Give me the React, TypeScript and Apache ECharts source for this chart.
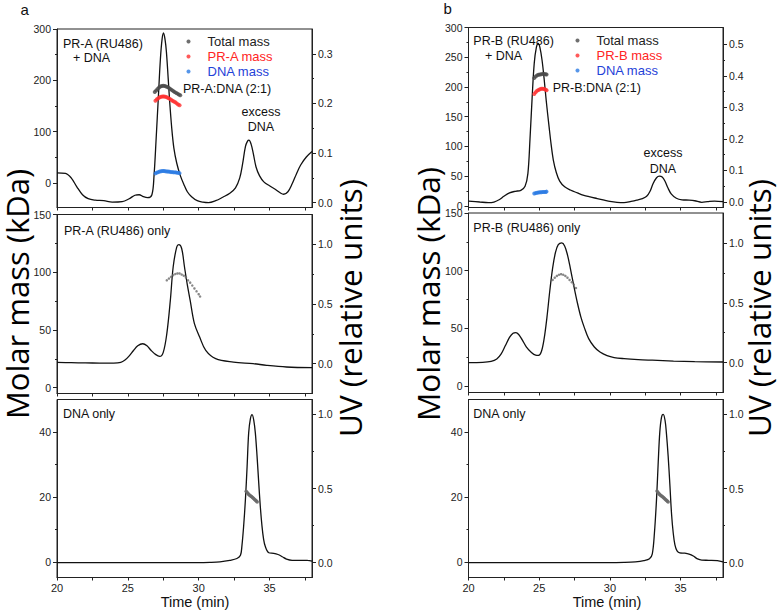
import React, { useEffect, useRef } from 'react';
import * as echarts from 'echarts';

const FONT = '"Liberation Sans", Arial, sans-serif';
const TITLE_FONT = '"Open Sans", sans-serif';

type P = [number, number][];

// ---- time axis ----
const timeTicks = [20, 22.5, 25, 27.5, 30, 32.5, 35, 37.5];
const timeLabels = [20, 25, 30, 35];

// ---- tick values ----
const aTopMassTicks = [0, 100, 200, 300];
const aTopMassMinor = [50, 150, 250];
const aTopUvTicks = [0, 0.1, 0.2, 0.3];
const aTopUvMinor = [0.05, 0.15, 0.25];
const bTopMassTicks = [0, 50, 100, 150, 200, 250, 300];
const bTopMassMinor = [25, 75, 125, 175, 225, 275];
const bTopUvTicks = [0, 0.1, 0.2, 0.3, 0.4, 0.5];
const bTopUvMinor = [0.05, 0.15, 0.25, 0.35, 0.45];
const midMassTicks = [0, 50, 100, 150];
const midMassMinor = [25, 75, 125];
const botMassTicks = [0, 20, 40];
const botMassMinor = [10, 30];
const unitUvTicks = [0, 0.5, 1.0];
const unitUvMinor = [0.25, 0.75];

// ---- panel a, top: PR-A (RU486) + DNA ----
const aTopUv: P = [[20.0,0.060],[20.6,0.059],[21.0,0.050],[21.4,0.032],[21.8,0.016],[22.2,0.008],[22.7,0.005],[23.3,0.004],[23.9,0.001],[24.6,0.002],[25.1,0.008],[25.5,0.015],[25.8,0.016],[26.1,0.012],[26.4,0.010],[26.7,0.016],[26.85,0.055],[27.0,0.13],[27.15,0.21],[27.3,0.29],[27.42,0.33],[27.52,0.342],[27.62,0.33],[27.72,0.305],[27.85,0.25],[27.95,0.205],[28.1,0.15],[28.25,0.11],[28.45,0.08],[28.7,0.055],[28.95,0.037],[29.2,0.022],[29.5,0.012],[29.9,0.004],[30.3,0.001],[30.7,0.0],[31.2,0.004],[31.7,0.011],[32.2,0.019],[32.6,0.03],[32.9,0.05],[33.1,0.078],[33.3,0.113],[33.45,0.124],[33.55,0.126],[33.7,0.118],[33.85,0.1],[34.05,0.072],[34.3,0.054],[34.6,0.042],[35.0,0.034],[35.4,0.027],[35.8,0.019],[36.0,0.017],[36.3,0.022],[36.6,0.038],[36.9,0.058],[37.2,0.076],[37.6,0.092],[38.0,0.103]];
const aTopTotal: P = [[26.9,177],[27.0,180],[27.1,183],[27.2,186],[27.3,188],[27.4,189],[27.5,189.5],[27.6,189],[27.7,188],[27.8,187],[27.9,185],[28.0,183],[28.1,181],[28.2,179],[28.3,177],[28.4,175.5],[28.5,174],[28.6,172.5],[28.7,171]];
const aTopPR: P = [[26.95,160],[27.05,163],[27.15,165],[27.25,167],[27.35,168],[27.45,168.5],[27.55,168.5],[27.65,168],[27.75,167],[27.85,165.5],[27.95,164],[28.05,162],[28.15,160],[28.25,158.5],[28.35,157],[28.45,155],[28.55,153],[28.65,151.5]];
const aTopDNA: P = [[26.95,18.5],[27.05,20],[27.15,21],[27.25,22],[27.35,22.5],[27.45,23],[27.55,23],[27.65,22.5],[27.75,22],[27.85,22],[27.95,21.5],[28.05,21],[28.15,21],[28.25,20.5],[28.35,20.5],[28.45,20],[28.55,19.5],[28.65,19]];

// ---- panel a, middle: PR-A (RU486) only ----
const aMidUv: P = [[20,0.01],[21,0.008],[22,0.006],[23,0.005],[24,0.004],[24.5,0.01],[24.8,0.03],[25.1,0.065],[25.4,0.11],[25.7,0.15],[26.05,0.167],[26.35,0.15],[26.65,0.11],[26.95,0.078],[27.25,0.061],[27.5,0.095],[27.75,0.25],[28.0,0.53],[28.2,0.81],[28.45,0.977],[28.6,0.997],[28.8,0.965],[29.0,0.81],[29.2,0.66],[29.4,0.53],[29.7,0.335],[30.07,0.223],[30.5,0.111],[31.2,0.042],[32.45,0.013],[33.85,0.0],[34.8,-0.014],[36.2,-0.028],[38.0,-0.034]];
const aMidMass: P = [[27.75,93],[27.9,94.5],[28.05,96],[28.2,97.5],[28.35,98.5],[28.5,99],[28.65,99],[28.8,98],[28.95,97],[29.1,95.5],[29.25,93],[29.4,91],[29.55,88.5],[29.7,86],[29.85,83.5],[30.0,81],[30.1,79]];

// ---- panel a, bottom: DNA only ----
const aBotUv: P = [[20,0],[25,0],[30,0],[30.8,0.002],[31.5,0.006],[32.2,0.016],[32.7,0.028],[32.95,0.05],[33.05,0.11],[33.17,0.24],[33.3,0.426],[33.42,0.65],[33.53,0.875],[33.65,0.97],[33.77,0.998],[33.89,0.96],[34.0,0.875],[34.12,0.72],[34.24,0.538],[34.35,0.38],[34.47,0.246],[34.58,0.16],[34.7,0.11],[34.95,0.067],[35.3,0.063],[35.6,0.055],[35.9,0.04],[36.2,0.024],[36.6,0.016],[37.2,0.016],[37.7,0.015],[38,0.01]];
const aBotMass: P = [[33.35,21.8],[33.4,21.6],[33.45,21.3],[33.5,21.0],[33.55,20.8],[33.6,20.6],[33.65,20.4],[33.7,20.3],[33.75,20.1],[33.8,19.9],[33.85,19.7],[33.9,19.5],[33.95,19.3],[34.0,19.1],[34.05,18.9],[34.1,18.7],[34.13,18.5]];

// ---- panel b, top: PR-B (RU486) + DNA ----
const bTopUv: P = [[20.0,0.003],[20.8,0.0],[21.4,-0.002],[21.8,0.0],[22.2,0.008],[22.5,0.018],[22.9,0.029],[23.3,0.034],[23.7,0.037],[24.0,0.05],[24.2,0.09],[24.35,0.2],[24.5,0.33],[24.65,0.44],[24.8,0.49],[24.93,0.503],[25.05,0.49],[25.2,0.45],[25.35,0.39],[25.5,0.32],[25.7,0.238],[25.85,0.18],[26.0,0.133],[26.2,0.095],[26.45,0.066],[26.8,0.048],[27.2,0.038],[27.7,0.029],[28.1,0.022],[28.6,0.016],[29.1,0.011],[29.6,0.006],[30.0,0.002],[30.5,-0.001],[31.0,-0.002],[31.5,0.002],[31.9,0.006],[32.3,0.011],[32.6,0.018],[32.85,0.035],[33.05,0.058],[33.3,0.077],[33.5,0.082],[33.7,0.079],[33.9,0.066],[34.1,0.045],[34.35,0.025],[34.7,0.012],[35.1,0.007],[35.6,0.006],[36.0,0.004],[36.5,-0.001],[36.9,0.001],[37.4,0.003],[38.0,0.001]];
const bTopTotal: P = [[24.65,215],[24.75,217.5],[24.85,219.5],[24.95,220.5],[25.05,221],[25.15,221.5],[25.25,222],[25.35,222],[25.45,221.5],[25.52,221]];
const bTopPR: P = [[24.65,188],[24.75,191],[24.85,193.5],[24.95,195],[25.05,196],[25.15,197],[25.25,197],[25.35,196.5],[25.45,195.5],[25.52,194.5]];
const bTopDNA: P = [[24.65,21],[24.75,21.5],[24.85,22],[24.95,22.5],[25.05,23],[25.15,23],[25.25,23.5],[25.35,23.5],[25.45,23.5],[25.52,24]];

// ---- panel b, middle: PR-B (RU486) only ----
const bMidUv: P = [[20.0,0.0],[21.0,0.002],[21.6,0.01],[22.0,0.03],[22.3,0.07],[22.6,0.14],[22.9,0.21],[23.15,0.245],[23.35,0.25],[23.55,0.235],[23.8,0.19],[24.1,0.13],[24.45,0.085],[24.75,0.062],[24.95,0.06],[25.15,0.09],[25.35,0.2],[25.55,0.38],[25.75,0.6],[25.95,0.79],[26.15,0.92],[26.35,0.985],[26.6,1.0],[26.8,0.975],[27.0,0.9],[27.2,0.79],[27.45,0.64],[27.7,0.5],[27.95,0.38],[28.2,0.29],[28.5,0.2],[28.9,0.13],[29.3,0.088],[29.8,0.058],[30.3,0.042],[31.0,0.033],[32.0,0.025],[33.0,0.02],[34.5,0.013],[36.0,0.008],[38.0,0.005]];
const bMidMass: P = [[25.95,92],[26.1,94],[26.25,95.5],[26.4,96.5],[26.55,97],[26.7,96.5],[26.85,95.5],[27.0,94],[27.15,92],[27.3,90],[27.45,88],[27.6,85]];

// ---- panel b, bottom: DNA only ----
const bBotUv: P = [[20,0],[25,0],[30,0],[31,0.002],[31.8,0.006],[32.4,0.014],[32.8,0.026],[33.0,0.06],[33.15,0.2],[33.3,0.43],[33.42,0.68],[33.53,0.88],[33.65,0.98],[33.77,1.0],[33.9,0.96],[34.0,0.87],[34.12,0.72],[34.24,0.53],[34.36,0.33],[34.48,0.2],[34.6,0.12],[34.75,0.08],[34.95,0.066],[35.3,0.064],[35.6,0.058],[35.9,0.045],[36.2,0.025],[36.5,0.017],[37.0,0.016],[37.6,0.014],[38,0.006]];
const bBotMass: P = [[33.33,21.9],[33.38,21.6],[33.43,21.3],[33.48,21.0],[33.53,20.8],[33.58,20.6],[33.63,20.4],[33.68,20.3],[33.73,20.1],[33.78,19.9],[33.83,19.7],[33.88,19.5],[33.93,19.3],[33.98,19.1],[34.03,18.9],[34.08,18.7],[34.12,18.5]];

const C_TOTAL = '#4a4a4a';
const C_PR = '#ff3030';
const C_DNA = '#2a7ae4';
const C_SINGLE = '#6a6a6a';
const C_AXIS = '#222';

interface ScatterDef { name: string; data: P; color: string; size: number }
interface PanelDef {
  grid: { left: number; top: number; width: number; height: number };
  massRange: [number, number];
  uvRange: [number, number];
  massTicks: number[]; massMinor: number[];
  uvTicks: number[]; uvMinor: number[];
  uv: P;
  scatter: ScatterDef[];
  bottom: boolean;
}

const panels: PanelDef[] = [
  { grid: { left: 57, top: 29, width: 255, height: 178.5 }, massRange: [-48, 300], uvRange: [-0.0097, 0.35],
    massTicks: aTopMassTicks, massMinor: aTopMassMinor, uvTicks: aTopUvTicks, uvMinor: aTopUvMinor, uv: aTopUv,
    scatter: [
      { name: 'Total mass', data: aTopTotal, color: C_TOTAL, size: 4 },
      { name: 'PR-A mass', data: aTopPR, color: C_PR, size: 4 },
      { name: 'DNA mass', data: aTopDNA, color: C_DNA, size: 4 },
    ], bottom: false },
  { grid: { left: 57, top: 214.5, width: 255, height: 179 }, massRange: [-5, 150], uvRange: [-0.25, 1.25],
    massTicks: midMassTicks, massMinor: midMassMinor, uvTicks: unitUvTicks, uvMinor: unitUvMinor, uv: aMidUv,
    scatter: [{ name: 'Molar mass', data: aMidMass, color: C_SINGLE, size: 2.5 }], bottom: false },
  { grid: { left: 57, top: 399.5, width: 255, height: 178 }, massRange: [-4.7, 50], uvRange: [-0.1, 1.1],
    massTicks: botMassTicks, massMinor: botMassMinor, uvTicks: unitUvTicks, uvMinor: unitUvMinor, uv: aBotUv,
    scatter: [{ name: 'Molar mass', data: aBotMass, color: C_SINGLE, size: 3.5 }], bottom: true },
  { grid: { left: 468.5, top: 27.5, width: 254.5, height: 180 }, massRange: [-2.7, 300], uvRange: [-0.0174, 0.553],
    massTicks: bTopMassTicks, massMinor: bTopMassMinor, uvTicks: bTopUvTicks, uvMinor: bTopUvMinor, uv: bTopUv,
    scatter: [
      { name: 'Total mass', data: bTopTotal, color: C_TOTAL, size: 4 },
      { name: 'PR-B mass', data: bTopPR, color: C_PR, size: 4 },
      { name: 'DNA mass', data: bTopDNA, color: C_DNA, size: 4 },
    ], bottom: false },
  { grid: { left: 468.5, top: 213, width: 254.5, height: 179.5 }, massRange: [-5.5, 150], uvRange: [-0.25, 1.25],
    massTicks: midMassTicks, massMinor: midMassMinor, uvTicks: unitUvTicks, uvMinor: unitUvMinor, uv: bMidUv,
    scatter: [{ name: 'Molar mass', data: bMidMass, color: C_SINGLE, size: 2.5 }], bottom: false },
  { grid: { left: 468.5, top: 399.5, width: 254.5, height: 178 }, massRange: [-4.7, 50], uvRange: [-0.1, 1.1],
    massTicks: botMassTicks, massMinor: botMassMinor, uvTicks: unitUvTicks, uvMinor: unitUvMinor, uv: bBotUv,
    scatter: [{ name: 'Molar mass', data: bBotMass, color: C_SINGLE, size: 3.5 }], bottom: true },
];

function txt(text: string, x: number, y: number, opts: any = {}) {
  return {
    type: 'text', x, y, silent: true, rotation: opts.rotation || 0, scaleX: opts.scaleX || 1,
    style: {
      text, fill: opts.fill || '#111',
      font: `${opts.size || 12.5}px ${opts.family || FONT}`,
      textAlign: opts.align || 'left', textVerticalAlign: 'middle',
    },
  };
}

function buildOption() {
  const grid: any[] = [];
  const xAxis: any[] = [];
  const yAxis: any[] = [];
  const series: any[] = [];
  const labelStyle = { fontFamily: FONT, fontSize: 10.5, color: C_AXIS };

  panels.forEach((p, i) => {
    grid.push({ ...p.grid, show: true, borderColor: C_AXIS, borderWidth: 1, backgroundColor: 'transparent' });
    xAxis.push({
      type: 'value', gridIndex: i, min: 20, max: 38,
      axisLine: { show: true, onZero: false, lineStyle: { color: C_AXIS, width: 1 } },
      axisTick: { show: true, length: 3, customValues: timeTicks, lineStyle: { color: C_AXIS } },
      axisLabel: { show: p.bottom, customValues: timeLabels, margin: 5, ...labelStyle, fontSize: 11 },
      splitLine: { show: false },
    });
    const base = 4 * i;
    yAxis.push({
      type: 'value', gridIndex: i, position: 'left', min: p.massRange[0], max: p.massRange[1],
      axisLine: { show: true, onZero: false, lineStyle: { color: C_AXIS, width: 1 } },
      axisTick: { show: true, length: 4, customValues: p.massTicks, lineStyle: { color: C_AXIS } },
      axisLabel: { customValues: p.massTicks, margin: 6, ...labelStyle, formatter: (v: number) => String(Math.round(v)) },
      splitLine: { show: false },
    });
    yAxis.push({
      type: 'value', gridIndex: i, position: 'right', min: p.uvRange[0], max: p.uvRange[1],
      axisLine: { show: true, onZero: false, lineStyle: { color: C_AXIS, width: 1 } },
      axisTick: { show: true, length: 4, customValues: p.uvTicks, lineStyle: { color: C_AXIS } },
      axisLabel: { customValues: p.uvTicks, margin: 6, ...labelStyle, formatter: (v: number) => v.toFixed(1) },
      splitLine: { show: false },
    });
    yAxis.push({
      type: 'value', gridIndex: i, position: 'left', min: p.massRange[0], max: p.massRange[1],
      axisLine: { show: false }, axisLabel: { show: false }, splitLine: { show: false },
      axisTick: { show: true, length: 2, customValues: p.massMinor, lineStyle: { color: C_AXIS } },
    });
    yAxis.push({
      type: 'value', gridIndex: i, position: 'right', min: p.uvRange[0], max: p.uvRange[1],
      axisLine: { show: false }, axisLabel: { show: false }, splitLine: { show: false },
      axisTick: { show: true, length: 2, customValues: p.uvMinor, lineStyle: { color: C_AXIS } },
    });

    series.push({
      type: 'line', name: 'UV', xAxisIndex: i, yAxisIndex: base + 1, data: p.uv,
      showSymbol: false, smooth: 0.35, lineStyle: { color: '#111', width: 1.3 }, z: 2, silent: true,
    });
    p.scatter.forEach((s) => {
      series.push({
        type: 'scatter', name: s.name, xAxisIndex: i, yAxisIndex: base, data: s.data,
        symbol: 'circle', symbolSize: s.size, itemStyle: { color: s.color }, z: 5, silent: true,
      });
    });
  });

  const legendCommon = {
    orient: 'vertical', icon: 'circle', itemWidth: 4, itemHeight: 4, itemGap: 0, padding: 0, selectedMode: false,
    textStyle: { fontFamily: FONT, fontSize: 13, lineHeight: 15, padding: [0, 0, 0, 12] },
  };
  const legend = [
    { ...legendCommon, left: 186.5, top: 34,
      data: [
        { name: 'Total mass', textStyle: { color: '#222' } },
        { name: 'PR-A mass', textStyle: { color: '#ff2424' } },
        { name: 'DNA mass', textStyle: { color: '#1f42d8' } },
      ] },
    { ...legendCommon, left: 575.5, top: 33,
      data: [
        { name: 'Total mass', textStyle: { color: '#222' } },
        { name: 'PR-B mass', textStyle: { color: '#ff2424' } },
        { name: 'DNA mass', textStyle: { color: '#1f42d8' } },
      ] },
  ];

  const graphic = [
    txt('a', 20.5, 9, { size: 15 }),
    txt('b', 443.5, 8, { size: 15 }),
    txt('PR-A (RU486)', 63, 44.3),
    txt('+ DNA', 73, 58.3),
    txt('PR-A:DNA (2:1)', 183, 89),
    txt('excess', 261, 112, { align: 'center' }),
    txt('DNA', 261, 127, { align: 'center' }),
    txt('PR-B (RU486)', 473.3, 41.3),
    txt('+ DNA', 485, 56),
    txt('PR-B:DNA (2:1)', 552.7, 87.5),
    txt('excess', 663, 153.3, { align: 'center' }),
    txt('DNA', 663, 168.7, { align: 'center' }),
    txt('PR-A (RU486) only', 64, 230.7),
    txt('PR-B (RU486) only', 473.3, 228),
    txt('DNA only', 63, 414),
    txt('DNA only', 473.3, 414),
    txt('Time (min)', 195, 602, { align: 'center', size: 14.5 }),
    txt('Time (min)', 607, 602, { align: 'center', size: 14.5 }),
    txt('Molar mass (kDa)', 16.5, 294, { align: 'center', size: 31, family: TITLE_FONT, rotation: Math.PI / 2, fill: '#000' }),
    txt('Molar mass (kDa)', 427, 294, { align: 'center', size: 31.5, family: TITLE_FONT, rotation: Math.PI / 2, fill: '#000' }),
    txt('UV (relative units)', 349, 308, { align: 'center', size: 31.5, family: TITLE_FONT, rotation: Math.PI / 2, fill: '#000' }),
    txt('UV (relative units)', 758, 308, { align: 'center', size: 31.5, family: TITLE_FONT, rotation: Math.PI / 2, fill: '#000' }),
  ];

  return {
    animation: false,
    backgroundColor: '#fff',
    grid, xAxis, yAxis, series, legend, graphic,
  };
}

export default function App() {
  const ref = useRef<HTMLDivElement>(null);
  useEffect(() => {
    const chart = echarts.init(ref.current!, null, { renderer: 'svg' });
    chart.setOption(buildOption() as any);
    return () => chart.dispose();
  }, []);
  return (
    <div
      ref={ref}
      style={{ position: 'fixed', left: 0, top: 0, width: 780, height: 614, background: '#fff' }}
    />
  );
}
